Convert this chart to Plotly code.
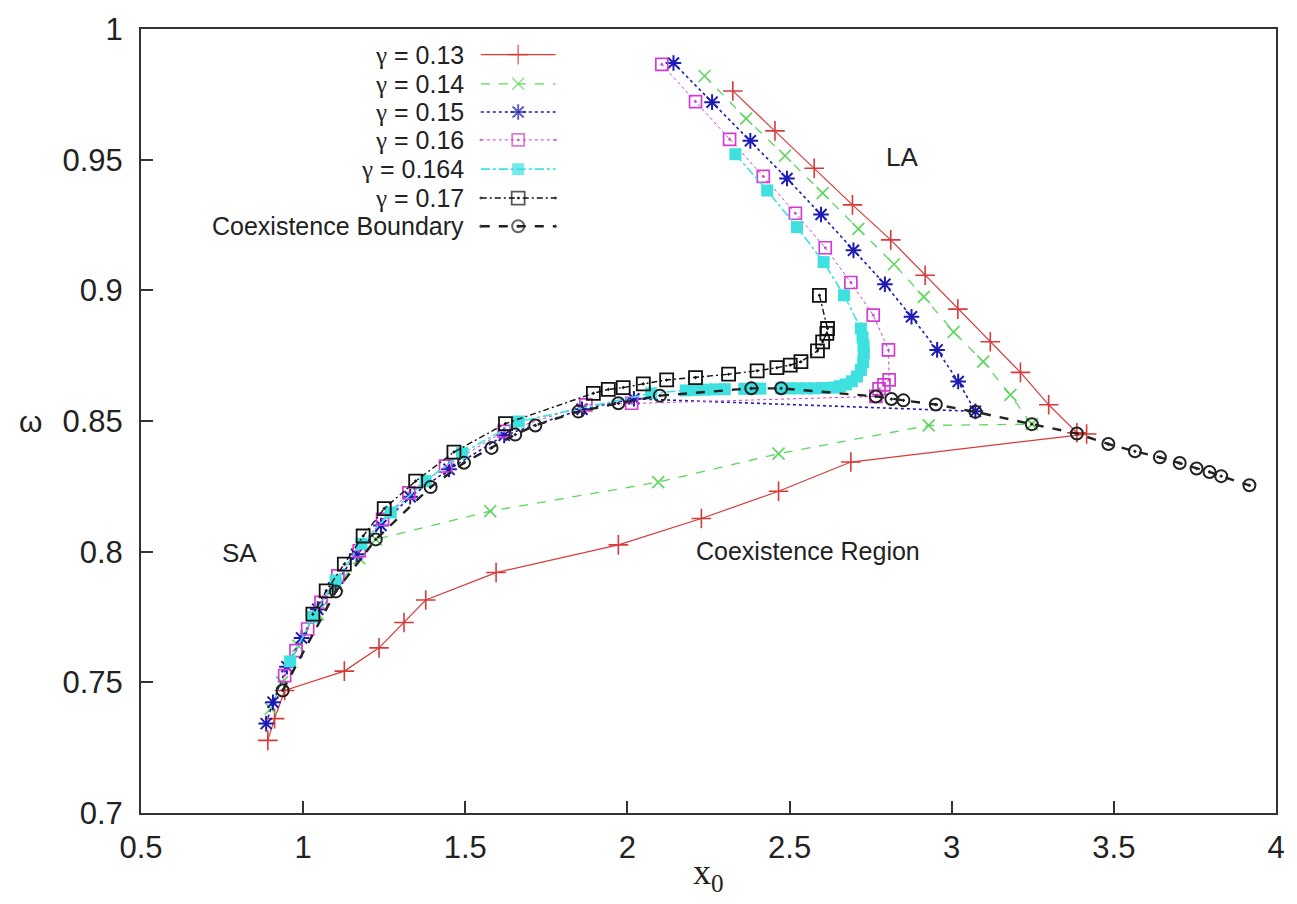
import plotly.graph_objects as go

# ---------------- data: (x0, omega) points for each gamma ----------------
red_x = [2.325, 2.455, 2.576, 2.694, 2.812, 2.918, 3.019, 3.119, 3.212, 3.299, 3.386, 3.416,
         2.689, 2.466, 2.228, 1.972, 1.595, 1.378, 1.311, 1.234, 1.127, 0.943, 0.912, 0.891]
red_y = [0.9763, 0.961, 0.9467, 0.9327, 0.9193, 0.9058, 0.8928, 0.8803, 0.8686, 0.8562, 0.8455, 0.8450,
         0.8343, 0.8231, 0.8127, 0.8026, 0.792, 0.7815, 0.7729, 0.7632, 0.7543, 0.7469, 0.7361, 0.7278]

green_x = [2.238, 2.366, 2.486, 2.602, 2.712, 2.822, 2.914, 3.006, 3.097, 3.181, 3.247,
           2.929, 2.466, 2.095, 1.577, 1.224, 1.173, 1.105, 1.045, 0.985, 0.935, 0.900]
green_y = [0.982, 0.9657, 0.9515, 0.9372, 0.9235, 0.910, 0.8975, 0.8841, 0.8727, 0.860, 0.8488,
           0.8483, 0.8375, 0.8266, 0.8155, 0.8047, 0.7975, 0.787, 0.776, 0.764, 0.750, 0.740]

blue_x = [2.142, 2.261, 2.379, 2.492, 2.597, 2.697, 2.794, 2.876, 2.955, 3.020, 3.073,
          2.02, 1.86, 1.62, 1.45, 1.33, 1.24, 1.165, 1.10, 1.045, 0.995, 0.95, 0.907, 0.886]
blue_y = [0.987, 0.972, 0.9572, 0.9428, 0.929, 0.9153, 0.9023, 0.8899, 0.8772, 0.8651, 0.8537,
          0.8585, 0.8545, 0.8445, 0.8315, 0.821, 0.810, 0.799, 0.788, 0.778, 0.767, 0.756, 0.7424, 0.7342]

magenta_x = [2.106, 2.21, 2.315, 2.419, 2.518, 2.610, 2.689, 2.758, 2.805, 2.807, 2.791, 2.776, 2.766,
             2.013, 1.872, 1.62, 1.439, 1.326, 1.245, 1.173, 1.107, 1.055, 1.014, 0.978, 0.943]
magenta_y = [0.9865, 0.9722, 0.9578, 0.9436, 0.9295, 0.9163, 0.903, 0.8905, 0.8772, 0.8657, 0.8638, 0.8623, 0.8594,
             0.8568, 0.8562, 0.8460, 0.8327, 0.8225, 0.8124, 0.8003, 0.7907, 0.7806, 0.7704, 0.7621, 0.7526]

cyan_x = [2.333, 2.431, 2.523, 2.605, 2.668, 2.72, 2.725,
          2.728, 2.729, 2.727, 2.720, 2.708, 2.692, 2.674, 2.655, 2.635,
          2.60, 2.575, 2.55, 2.525, 2.50, 2.475, 2.41, 2.385, 2.36, 2.30, 2.27, 2.24, 2.21, 2.18,
          2.073, 1.665, 1.49, 1.378, 1.27, 1.18, 1.10, 1.03, 0.96]
cyan_y = [0.9521, 0.9382, 0.9242, 0.9108, 0.8981, 0.8854, 0.882,
          0.8790, 0.8760, 0.8725, 0.8695, 0.8670, 0.8652, 0.8640, 0.8633, 0.8628,
          0.8626, 0.8625, 0.8625, 0.8625, 0.8625, 0.8625, 0.8624, 0.8624, 0.8623, 0.8622, 0.8621, 0.8620, 0.8619, 0.8617,
          0.8606, 0.8498, 0.8377, 0.827, 0.815, 0.803, 0.789, 0.775, 0.758]

black_x = [2.592, 2.617, 2.615, 2.602, 2.586, 2.535, 2.502, 2.461, 2.400, 2.312, 2.210, 2.121,
           2.049, 1.987, 1.941, 1.895, 1.624, 1.465, 1.347, 1.25, 1.185, 1.127, 1.071, 1.030]
black_y = [0.8981, 0.8854, 0.8835, 0.8803, 0.8768, 0.8727, 0.8714, 0.8704, 0.8692, 0.8679, 0.8666, 0.8657,
           0.8642, 0.8628, 0.8621, 0.8606, 0.8490, 0.8381, 0.827, 0.8165, 0.806, 0.7952, 0.785, 0.7761]

boundary_x = [0.937, 1.101, 1.224, 1.393, 1.496, 1.581, 1.654, 1.716, 1.849, 1.972, 2.100, 2.382, 2.474,
              2.766, 2.814, 2.851, 2.951, 3.073, 3.247, 3.386, 3.483, 3.565, 3.642, 3.703, 3.755, 3.795,
              3.831, 3.918]
boundary_y = [0.7469, 0.7848, 0.8047, 0.8247, 0.834, 0.8397, 0.8448, 0.8483, 0.8536, 0.8568, 0.8597, 0.8625, 0.8625,
              0.8594, 0.8584, 0.8579, 0.8563, 0.8535, 0.8488, 0.8452, 0.8412, 0.8384, 0.8361, 0.8339, 0.8318, 0.8305,
              0.8289, 0.8254]

x_ticks = [0.5, 1, 1.5, 2, 2.5, 3, 3.5, 4]
x_ticktext = ["0.5", "1", "1.5", "2", "2.5", "3", "3.5", "4"]
y_ticks = [0.7, 0.75, 0.8, 0.85, 0.9, 0.95, 1.0]
y_ticktext = ["0.7", "0.75", "0.8", "0.85", "0.9", "0.95", "1"]

gamma_values = ["0.13", "0.14", "0.15", "0.16", "0.164", "0.17"]
boundary_label = "Coexistence Boundary"

# ---------------- styles ----------------
FONT = "Liberation Sans, Arial, Helvetica, sans-serif"
SERIF = "Liberation Serif, Times New Roman, serif"
TXT = "#222222"
styles = [
    dict(color="#d83a3a", dash="solid", lw=1.2, sym="cross-thin-open", size=14, mlw=1.6),
    dict(color="#5ed65e", dash="dash", lw=1.3, sym="x-thin-open", size=12, mlw=1.6),
    dict(color="#1c1cb4", dash="dot", lw=1.6, sym="asterisk-open", size=13, mlw=2.0),
    dict(color="#d23cd2", dash="dot", lw=1.0, sym="square-open-dot", size=12, mlw=1.7),
    dict(color="#3ee0e0", dash="dashdot", lw=1.6, sym="square", size=12, mlw=0),
    dict(color="#111111", dash="6px,3px,2px,3px", lw=1.4, sym="square-open-dot", size=13, mlw=1.8),
    dict(color="#222222", dash="dash", lw=2.4, sym="circle-open-dot", size=12, mlw=2.0),
]
series = [(red_x, red_y), (green_x, green_y), (blue_x, blue_y), (magenta_x, magenta_y),
          (cyan_x, cyan_y), (black_x, black_y), (boundary_x, boundary_y)]

# key labels: serif gamma, sans-serif value
key_labels = ['<span style="font-family:%s">γ</span> = %s' % (SERIF, g) for g in gamma_values]
key_labels.append(boundary_label)
trace_names = ["γ = " + g for g in gamma_values] + [boundary_label]

fig = go.Figure()
for (xs, ys), st, name in zip(series, styles, trace_names):
    fig.add_trace(go.Scatter(
        x=xs, y=ys, mode="lines+markers", name=name, showlegend=False,
        line=dict(color=st["color"], dash=st["dash"], width=st["lw"]),
        marker=dict(symbol=st["sym"], size=st["size"], color=st["color"],
                    line=dict(color=st["color"], width=st["mlw"])),
    ))

# ---------------- key (text on the left, sample on the right) ----------------
# overlay axes measured in pixels of the plotting area
key_rows = [51.7, 81.0, 109.3, 137.3, 166.7, 195.7, 224.0]
key_text_x = 467
key_line = (482, 557)
key_mark = 519.5
for row, st in zip(key_rows, styles):
    fig.add_trace(go.Scatter(
        x=[key_line[0], key_mark, key_line[1]], y=[row, row, row],
        xaxis="x2", yaxis="y2", mode="lines+markers", showlegend=False, hoverinfo="skip",
        line=dict(color=st["color"], dash=st["dash"], width=st["lw"]),
        marker=dict(symbol=st["sym"], size=[0, st["size"], 0], color=st["color"],
                    line=dict(color=st["color"], width=st["mlw"])),
    ))

annotations = []
for row, label in zip(key_rows, key_labels):
    annotations.append(dict(x=key_text_x, y=row, xref="x2", yref="y2", text=label,
                            showarrow=False, xanchor="right", yanchor="middle",
                            font=dict(family=FONT, size=25, color=TXT)))

# region labels
annotations += [
    dict(x=0.804, y=0.7996, xref="x", yref="y", text="SA", showarrow=False,
         font=dict(family=FONT, size=26, color=TXT)),
    dict(x=2.848, y=0.9509, xref="x", yref="y", text="LA", showarrow=False,
         font=dict(family=FONT, size=26, color=TXT)),
    dict(x=2.556, y=0.8003, xref="x", yref="y", text="Coexistence Region", showarrow=False,
         font=dict(family=FONT, size=25, color=TXT)),
    # axis titles
    dict(x=-0.0975, y=0.5, xref="paper", yref="paper", text="ω", showarrow=False,
         xanchor="center", yanchor="middle",
         font=dict(family=FONT, size=30, color=TXT)),
    dict(x=0.5, y=-0.047, xref="paper", yref="paper", text="x<sub>0</sub>", showarrow=False,
         xanchor="center", yanchor="top",
         font=dict(family=SERIF, size=36, color=TXT)),
]

axis_common = dict(showgrid=False, zeroline=False, showline=True, mirror=True,
                   linecolor="#333333", linewidth=2, ticks="inside", ticklen=12,
                   tickwidth=1.5, tickcolor="#333333",
                   tickfont=dict(family=FONT, size=31, color=TXT))

fig.update_layout(
    width=1297, height=904,
    margin=dict(l=141, r=17, t=26, b=91),
    paper_bgcolor="white", plot_bgcolor="white",
    showlegend=False,
    xaxis=dict(range=[0.5, 4.0], tickvals=x_ticks, ticktext=x_ticktext,
               ticklabelstandoff=6, **axis_common),
    yaxis=dict(range=[0.7, 1.0], tickvals=y_ticks, ticktext=y_ticktext,
               ticklabelstandoff=10, **axis_common),
    xaxis2=dict(overlaying="x", range=[141, 1280], visible=False, fixedrange=True),
    yaxis2=dict(overlaying="y", range=[813, 26], visible=False, fixedrange=True),
    annotations=annotations,
)

fig.write_html("out.html")
